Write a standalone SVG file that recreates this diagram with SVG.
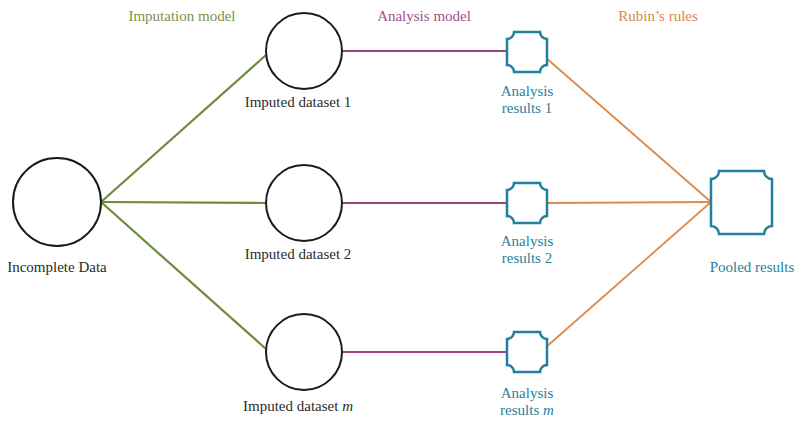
<svg xmlns="http://www.w3.org/2000/svg" width="795" height="421" viewBox="0 0 795 421">
  <defs>
    <style>
      .lbl { font-family: "Liberation Serif", "DejaVu Serif", serif; font-size: 15px; text-anchor: middle; fill: #2b2b2b; }
      .teal { fill: #2a7f9a; }
      .head { font-family: "Liberation Serif", "DejaVu Serif", serif; font-size: 15px; text-anchor: middle; }
      .circ { fill: #fff; stroke: #1a1a1a; stroke-width: 2; }
      .box { fill: #fff; stroke: #22809c; stroke-width: 2.5; }
      .imp { stroke: #6f8a3f; stroke-width: 2.2; fill: none; }
      .ana { stroke: #a0427c; stroke-width: 2.2; fill: none; }
      .rub { stroke: #de8a4c; stroke-width: 1.8; fill: none; }
    </style>
  </defs>
  <rect width="795" height="421" fill="#fff"/>

  <!-- stage headings -->
  <text class="head" x="182" y="21" fill="#7c8f52">Imputation model</text>
  <text class="head" x="424" y="21" fill="#a34f84">Analysis model</text>
  <text class="head" x="658" y="21" fill="#d9874a">Rubin’s rules</text>

  <!-- connectors -->
  <g id="connectors">
    <line class="imp" x1="101" y1="202" x2="266" y2="55"/>
    <line class="imp" x1="101" y1="202" x2="265" y2="203"/>
    <line class="imp" x1="101" y1="202" x2="266" y2="349"/>
    <line class="ana" x1="342" y1="51" x2="508" y2="51"/>
    <line class="ana" x1="342" y1="203" x2="508" y2="203"/>
    <line class="ana" x1="342" y1="352" x2="508" y2="352"/>
    <line class="rub" x1="545" y1="57" x2="711" y2="202"/>
    <line class="rub" x1="547" y1="203" x2="711" y2="202"/>
    <line class="rub" x1="545" y1="348" x2="711" y2="202"/>
  </g>

  <!-- source data -->
  <g id="incomplete-data">
    <circle class="circ" cx="57" cy="202" r="44"/>
    <text class="lbl" x="57" y="272">Incomplete Data</text>
  </g>

  <!-- imputed datasets -->
  <g id="imputed-1">
    <circle class="circ" cx="304" cy="51" r="38"/>
    <text class="lbl" x="298" y="107">Imputed dataset 1</text>
  </g>
  <g id="imputed-2">
    <circle class="circ" cx="304" cy="203" r="38"/>
    <text class="lbl" x="298" y="259">Imputed dataset 2</text>
  </g>
  <g id="imputed-m">
    <circle class="circ" cx="304" cy="352" r="38"/>
    <text class="lbl" x="298" y="411">Imputed dataset <tspan font-style="italic">m</tspan></text>
  </g>

  <!-- analysis results: squares with concave corners -->
  <g id="results-1">
    <path class="box" d="M514,32 L540,32 A7,7 0 0 0 547,39 L547,65 A7,7 0 0 0 540,72 L514,72 A7,7 0 0 0 507,65 L507,39 A7,7 0 0 0 514,32 Z"/>
    <text class="lbl teal" x="527" y="96">Analysis</text>
    <text class="lbl teal" x="527" y="113">results 1</text>
  </g>
  <g id="results-2">
    <path class="box" d="M514,183 L540,183 A7,7 0 0 0 547,190 L547,216 A7,7 0 0 0 540,223 L514,223 A7,7 0 0 0 507,216 L507,190 A7,7 0 0 0 514,183 Z"/>
    <text class="lbl teal" x="527" y="246">Analysis</text>
    <text class="lbl teal" x="527" y="263">results 2</text>
  </g>
  <g id="results-m">
    <path class="box" d="M514,332 L540,332 A7,7 0 0 0 547,339 L547,365 A7,7 0 0 0 540,372 L514,372 A7,7 0 0 0 507,365 L507,339 A7,7 0 0 0 514,332 Z"/>
    <text class="lbl teal" x="527" y="398">Analysis</text>
    <text class="lbl teal" x="527" y="415">results <tspan font-style="italic">m</tspan></text>
  </g>

  <!-- pooled estimate -->
  <g id="pooled">
    <path class="box" d="M719,171 L764,171 A8,8 0 0 0 772,179 L772,226 A8,8 0 0 0 764,234 L719,234 A8,8 0 0 0 711,226 L711,179 A8,8 0 0 0 719,171 Z"/>
    <text class="lbl teal" x="752" y="272">Pooled results</text>
  </g>
</svg>
